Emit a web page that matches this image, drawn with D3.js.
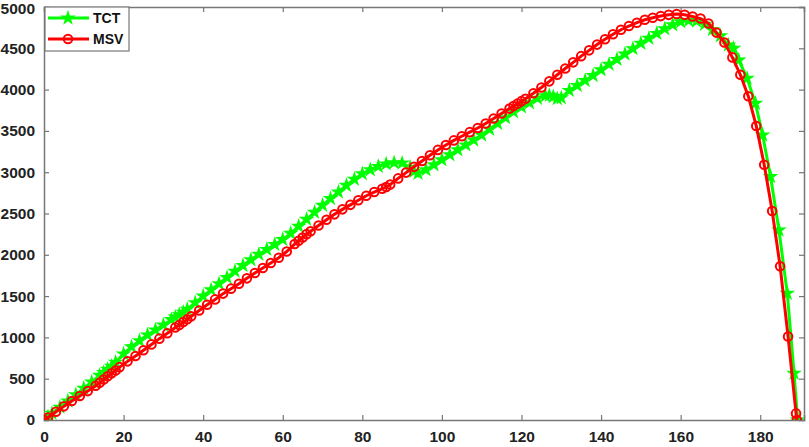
<!DOCTYPE html>
<html>
<head>
<meta charset="utf-8">
<script src="https://cdn.jsdelivr.net/npm/d3@7"></script>
<style>
  body { margin: 0; background: #fff; }
  text { font-family: "Liberation Sans", Arial, sans-serif; font-weight: bold; }
</style>
</head>
<body>
<svg id="chart" width="809" height="447"></svg>
<script>
// TCT (green, stars)
var tctX = [0, 1, 2, 4, 6, 8, 10, 12, 14, 15, 16, 17, 18, 20, 22, 24, 26, 28, 30, 32, 33, 34, 35, 36, 38,
  40, 42, 44, 46, 48, 50, 52, 54, 56, 58, 60, 62, 64, 66, 68, 70, 72, 74, 76, 78, 80, 82, 84, 86, 88,
  90, 92, 93, 94, 96, 98, 100, 102, 104, 106, 108, 110, 112, 114, 116, 118, 120, 122, 124, 126, 127,
  128, 129, 130, 132, 134, 136, 138, 140, 142, 144, 146, 148, 150, 152, 154, 156, 158, 160, 162, 164,
  166, 168, 170, 172, 173.3, 174.6, 176.7, 178.8, 180.6, 182.6, 184.7, 186.8, 188.5, 189.4];
var tctY = [0, 40, 80, 155, 230, 305, 385, 460, 540, 575, 615, 650, 700, 800, 885, 960, 1030, 1090, 1150,
  1215, 1245, 1275, 1305, 1340, 1420, 1500, 1575, 1650, 1725, 1800, 1870, 1940, 2005, 2065, 2125, 2185,
  2260, 2345, 2430, 2515, 2600, 2680, 2760, 2840, 2915, 2980, 3030, 3070, 3100, 3115, 3110, 3060, 3010,
  2985, 3030, 3090, 3150, 3210, 3270, 3330, 3390, 3450, 3520, 3590, 3660, 3730, 3790, 3840, 3895, 3925,
  3930, 3915, 3890, 3900, 3990, 4050, 4110, 4170, 4240, 4305, 4365, 4430, 4495, 4560, 4620, 4680, 4735,
  4785, 4820, 4835, 4830, 4790, 4725, 4650, 4540, 4500, 4358, 4136, 3834, 3450, 2946, 2300, 1534, 565, 0];

// MSV (red, circles)
var msvX = [0, 1, 3, 5, 7, 9, 11, 13, 14, 15, 16, 17, 18, 19, 21, 23, 25, 27, 29, 31, 33, 34, 35, 36, 37,
  39, 41, 43, 45, 47, 49, 51, 53, 55, 57, 59, 61, 63, 64, 65, 66, 67, 69, 71, 73, 75, 77, 79, 81, 83, 85,
  86, 87, 89, 91, 93, 95, 97, 99, 101, 103, 105, 107, 109, 111, 113, 115, 117, 118, 119, 120, 121, 123,
  125, 127, 129, 131, 133, 135, 137, 139, 141, 143, 145, 147, 149, 151, 153, 155, 157, 159, 161, 163,
  165, 167, 169, 171, 173, 175, 177, 179, 181, 183, 185, 187, 189, 189.2];
var msvY = [0, 30, 100, 165, 230, 290, 350, 415, 450, 490, 530, 565, 600, 640, 710, 775, 845, 915, 985,
  1050, 1120, 1150, 1185, 1220, 1255, 1325, 1395, 1460, 1530, 1590, 1650, 1715, 1780, 1840, 1900, 1965,
  2040, 2130, 2170, 2210, 2250, 2285, 2355, 2425, 2490, 2550, 2605, 2660, 2715, 2760, 2800, 2820, 2850,
  2925, 2995, 3065, 3135, 3205, 3270, 3330, 3385, 3435, 3485, 3535, 3590, 3650, 3710, 3770, 3800, 3830,
  3860, 3890, 3955, 4025, 4100, 4180, 4255, 4330, 4405, 4475, 4545, 4610, 4670, 4725, 4770, 4810, 4845,
  4870, 4890, 4905, 4915, 4905, 4885, 4860, 4800, 4690, 4570, 4390, 4180, 3920, 3560, 3090, 2530, 1860,
  1010, 80, 0];

var xTicks = [0, 20, 40, 60, 80, 100, 120, 140, 160, 180];
var yTicks = [0, 500, 1000, 1500, 2000, 2500, 3000, 3500, 4000, 4500, 5000];
var seriesNames = ["TCT", "MSV"];
var seriesColors = ["#00ff00", "#ff0000"];

var svg = d3.select("#chart");
var plotLeft = 44, plotRight = 804, plotTop = 7, plotBottom = 420;

var x = d3.scaleLinear().domain([0, 191]).range([plotLeft, plotRight]);
var y = d3.scaleLinear().domain([0, 5000]).range([plotBottom, plotTop]);

svg.append("defs").append("clipPath").attr("id", "clip")
  .append("rect").attr("x", plotLeft).attr("y", plotTop - 6)
  .attr("width", plotRight - plotLeft).attr("height", plotBottom - plotTop + 6);

var axisColor = "#777";

// axes with inward ticks
var gx = svg.append("g").attr("transform", "translate(0," + plotBottom + ")")
  .call(d3.axisBottom(x).tickValues(xTicks).tickSize(-5).tickPadding(11).tickFormat(d3.format("d")));
var gxTop = svg.append("g").attr("transform", "translate(0," + plotTop + ")")
  .call(d3.axisTop(x).tickValues(xTicks).tickSize(-5).tickFormat(""));
var gy = svg.append("g").attr("transform", "translate(" + plotLeft + ",0)")
  .call(d3.axisLeft(y).tickValues(yTicks).tickSize(-5).tickPadding(9).tickFormat(d3.format("d")));
var gyRight = svg.append("g").attr("transform", "translate(" + plotRight + ",0)")
  .call(d3.axisRight(y).tickValues(yTicks).tickSize(-5).tickFormat(""));

[gx, gxTop, gy, gyRight].forEach(function (g) {
  g.selectAll("path.domain").attr("stroke", axisColor).attr("stroke-width", 1.5);
  g.selectAll(".tick line").attr("stroke", axisColor).attr("stroke-width", 1.2);
  g.selectAll(".tick text").attr("fill", "#222").style("font-size", "15.5px").style("font-weight", "bold")
    .style("font-family", "'Liberation Sans', Arial, sans-serif");
});
// keep the top label inside the picture
gy.selectAll(".tick text").filter(function (d) { return d === 5000; }).attr("dy", "0.45em");

var plot = svg.append("g").attr("clip-path", "url(#clip)");

var line = d3.line()
  .x(function (d) { return x(d[0]); })
  .y(function (d) { return y(d[1]); });

var tct = d3.zip(tctX, tctY);
var msv = d3.zip(msvX, msvY);

var star = d3.symbol().type(d3.symbolStar).size(28);

// TCT
plot.append("path").datum(tct)
  .attr("d", line).attr("fill", "none").attr("stroke", seriesColors[0]).attr("stroke-width", 3);
plot.append("g").selectAll("path").data(tct).enter().append("path")
  .attr("d", star)
  .attr("transform", function (d) { return "translate(" + x(d[0]) + "," + y(d[1]) + ")"; })
  .attr("fill", seriesColors[0]).attr("stroke", seriesColors[0]).attr("stroke-width", 2);

// MSV
plot.append("path").datum(msv)
  .attr("d", line).attr("fill", "none").attr("stroke", seriesColors[1]).attr("stroke-width", 3);
plot.append("g").selectAll("circle").data(msv).enter().append("circle")
  .attr("cx", function (d) { return x(d[0]); })
  .attr("cy", function (d) { return y(d[1]); })
  .attr("r", 4.3)
  .attr("fill", "none").attr("stroke", seriesColors[1]).attr("stroke-width", 2);

// legend
var lg = svg.append("g");
lg.append("rect").attr("x", 45).attr("y", 7).attr("width", 84).attr("height", 44)
  .attr("fill", "#fff").attr("stroke", axisColor).attr("stroke-width", 1.2);
seriesNames.forEach(function (name, i) {
  var ly = 18 + i * 21;
  lg.append("line").attr("x1", 48).attr("x2", 89).attr("y1", ly).attr("y2", ly)
    .attr("stroke", seriesColors[i]).attr("stroke-width", 3);
  if (i === 0) {
    lg.append("path").attr("d", star).attr("transform", "translate(68," + ly + ")")
      .attr("fill", seriesColors[0]).attr("stroke", seriesColors[0]).attr("stroke-width", 2);
  } else {
    lg.append("circle").attr("cx", 68).attr("cy", ly).attr("r", 4.3)
      .attr("fill", "none").attr("stroke", seriesColors[1]).attr("stroke-width", 2);
  }
  lg.append("text").attr("x", 93).attr("y", ly + 5).text(name)
    .style("font-size", "14px").attr("fill", "#111");
});
</script>
</body>
</html>
